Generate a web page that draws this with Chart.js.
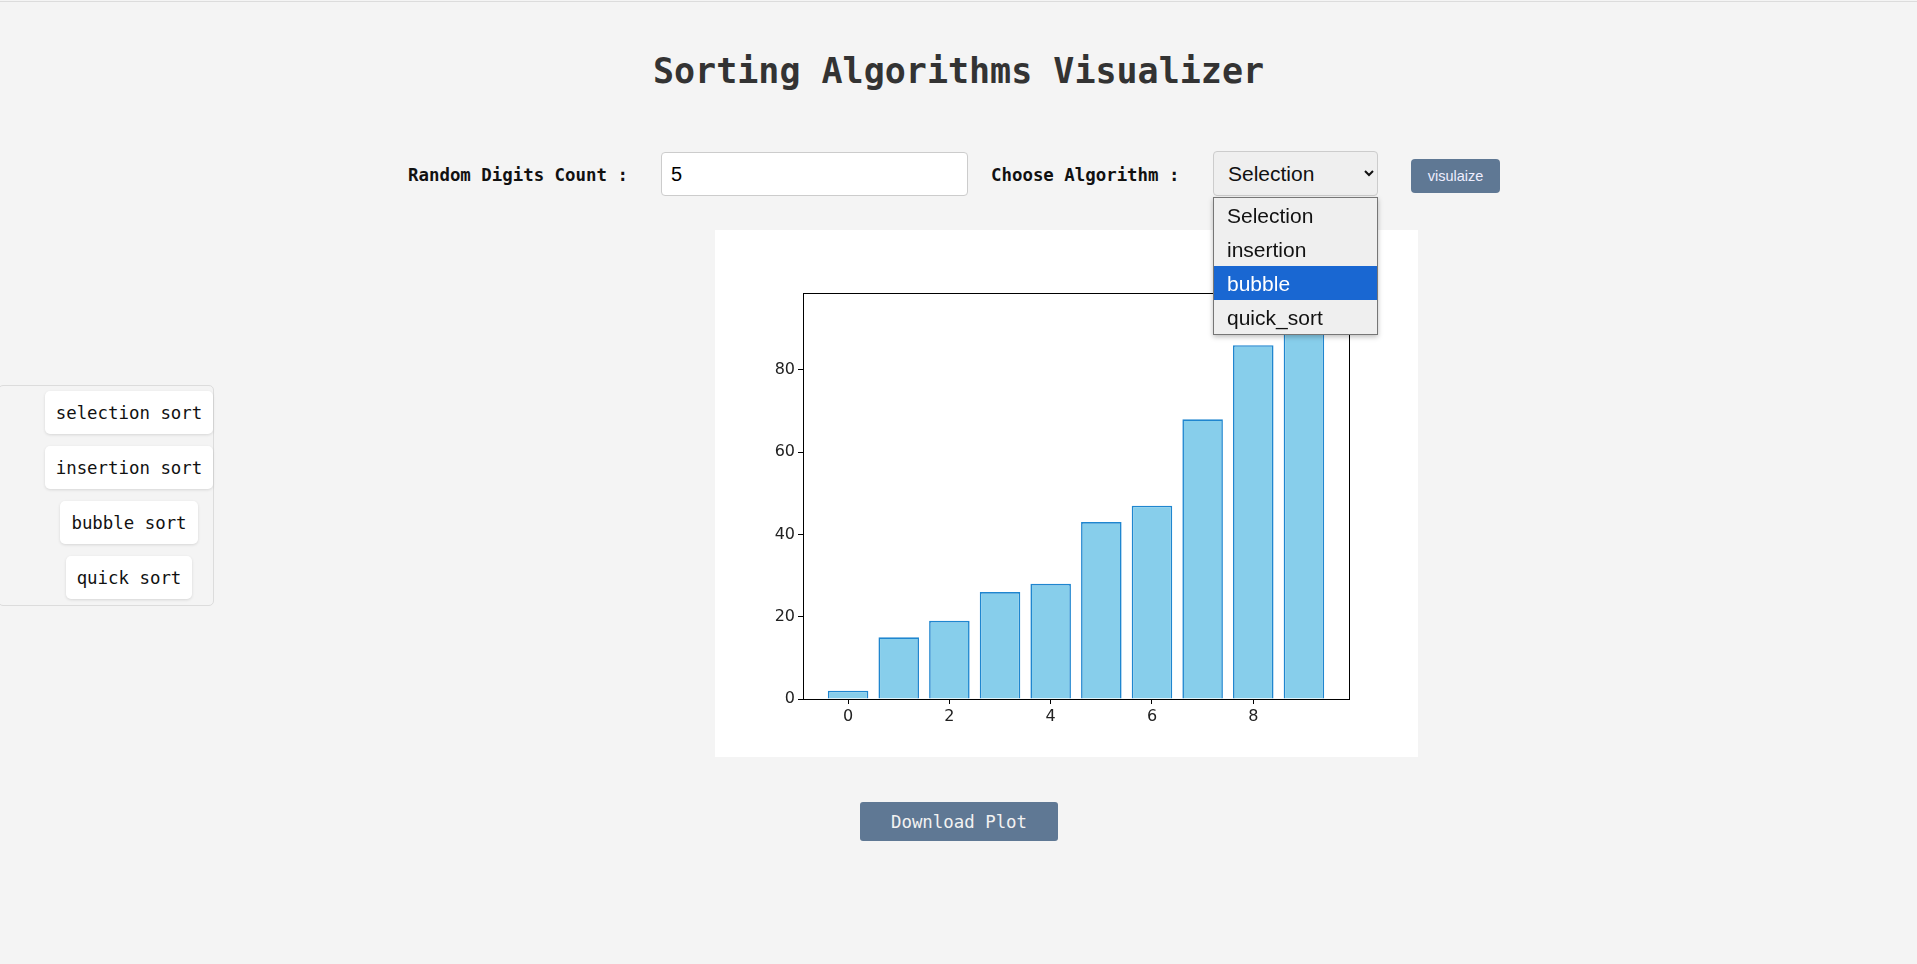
<!DOCTYPE html>
<html>
<head>
<meta charset="utf-8">
<script src="https://cdn.jsdelivr.net/npm/chart.js@4"></script>
<style>
  html, body { margin: 0; padding: 0; }
  body { width: 1917px; height: 964px; overflow: hidden; background: #f4f4f4; position: relative;
         font-family: "DejaVu Sans Mono", monospace; }
  .topline { position: absolute; left: 0; top: 1px; width: 100%; height: 1px; background: #dcdcdc; }
  h1 { position: absolute; left: 0; top: 48px; width: 1917px; margin: 0; text-align: center;
       font-size: 35px; line-height: 46px; color: #333; font-weight: bold; }
  .lbl { position: absolute; top: 163px; font-size: 17.4px; line-height: 24px; font-weight: bold; color: #111; }
  #count { position: absolute; left: 661px; top: 152px; width: 307px; height: 44px; box-sizing: border-box;
           border: 1px solid #ccc; border-radius: 4px; background: #fff; font: 20px "Liberation Sans", Arial;
           padding: 0 9px; outline: none; }
  #algo { position: absolute; left: 1213px; top: 151px; width: 165px; height: 45px; box-sizing: border-box;
          border: 1px solid #ccc; border-radius: 4px; background: #efefef; font: 21px "Liberation Sans", Arial;
          padding: 0 0 0 10px; color: #111; }
  .menu { position: absolute; left: 1213px; top: 197px; width: 165px; box-sizing: border-box;
          border: 1px solid #767676; background: #efefef; box-shadow: 0 2px 5px rgba(0,0,0,0.25); z-index: 5; }
  .menu div { height: 34px; font: 21px "Liberation Sans", Arial; line-height: 36px; padding-left: 13px; color: #111; }
  .menu div.sel { background: #1967d2; color: #fff; }
  #go { position: absolute; left: 1411px; top: 159px; width: 89px; height: 34px; border: none; border-radius: 4px;
        background: #5f7894; color: #eef; font: 14.5px "Liberation Sans", Arial; }
  .plot { position: absolute; left: 715px; top: 230px; width: 703px; height: 527px; background: #fff; }
  .side { position: absolute; left: -2px; top: 385px; width: 216px; height: 221px; box-sizing: border-box;
          border: 1px solid #dcdcdc; border-radius: 5px; }
  .side .col { position: absolute; left: 45px; top: 5px; width: 170px; display: flex; flex-direction: column;
               align-items: center; gap: 12px; }
  .side button { height: 43px; padding: 0 11px; border: none; border-radius: 5px; background: #fff;
                 font: 17.4px "DejaVu Sans Mono", monospace; color: #111; box-shadow: 0 1px 3px rgba(0,0,0,0.12); }
  #dl { position: absolute; left: 860px; top: 802px; width: 198px; height: 39px; border: none; border-radius: 3px;
        background: #5f7894; color: #f2f2f2; font: 17.4px "DejaVu Sans Mono", monospace; }
</style>
</head>
<body>
<div class="topline"></div>
<h1>Sorting Algorithms Visualizer</h1>

<span class="lbl" style="left:408px">Random Digits Count :</span>
<input id="count" type="text" value="5">
<span class="lbl" style="left:991px">Choose Algorithm :</span>
<select id="algo"></select>
<div class="menu" id="menu"></div>
<button id="go">visulaize</button>

<div class="side"><div class="col" id="sideCol"></div></div>

<div class="plot"><canvas id="sort-chart"></canvas></div>

<button id="dl">Download Plot</button>

<script>
// values of the sorted array (bar heights), index along x
const indices = [0, 1, 2, 3, 4, 5, 6, 7, 8, 9];
const sortedValues = [2, 15, 19, 26, 28, 43, 47, 68, 86, 94];
const xTicks = [0, 2, 4, 6, 8];
const yTicks = [0, 20, 40, 60, 80];

const algorithms = ['Selection', 'insertion', 'bubble', 'quick_sort'];
const highlighted = 'bubble';
const sideButtons = ['selection sort', 'insertion sort', 'bubble sort', 'quick sort'];

// form bits
const algoSelect = document.getElementById('algo');
const menu = document.getElementById('menu');
algorithms.forEach((a) => {
  const opt = document.createElement('option');
  opt.textContent = a;
  algoSelect.appendChild(opt);
  const item = document.createElement('div');
  item.textContent = a;
  if (a === highlighted) item.className = 'sel';
  menu.appendChild(item);
});
const sideCol = document.getElementById('sideCol');
sideButtons.forEach((b) => {
  const btn = document.createElement('button');
  btn.textContent = b;
  sideCol.appendChild(btn);
});

// matplotlib-like autoscale margins
const xMin = indices[0] - 0.4 - 0.05 * (indices.length - 1 + 0.8);
const xMax = indices[indices.length - 1] + 0.4 + 0.05 * (indices.length - 1 + 0.8);
const yMax = Math.max(...sortedValues) * 1.05;

// black frame around the axes (top and right spines too)
const frame = {
  id: 'frame',
  afterDraw(chart) {
    const { ctx, chartArea: a } = chart;
    ctx.save();
    ctx.strokeStyle = '#000';
    ctx.lineWidth = 1;
    ctx.strokeRect(Math.round(a.left) + 0.5, Math.round(a.top) + 0.5,
      Math.round(a.right - a.left), Math.round(a.bottom - a.top));
    ctx.restore();
  }
};

const tickFont = { family: 'DejaVu Sans', size: 16 };
const ctx = document.getElementById('sort-chart').getContext('2d');
const sortChart = new Chart(ctx, {
  type: 'bar',
  data: {
    datasets: [
      {
        data: indices.map((i) => ({ x: i, y: sortedValues[i] })),
        backgroundColor: '#87ceeb',
        borderColor: '#1f86cf',
        borderWidth: 1.6,
        barPercentage: 0.8,
        categoryPercentage: 1,
      },
    ],
  },
  options: {
    responsive: true,
    maintainAspectRatio: false,
    animation: false,
    devicePixelRatio: 1,
    layout: { padding: { top: 63, right: 69, left: 0, bottom: 0 } },
    plugins: { legend: { display: false }, tooltip: { enabled: false } },
    scales: {
      x: {
        type: 'linear',
        offset: false,
        min: xMin,
        max: xMax,
        afterBuildTicks: (axis) => { axis.ticks = xTicks.map((v) => ({ value: v })); },
        afterFit: (axis) => { axis.height = 58; },
        grid: { display: true, drawOnChartArea: false, offset: false, tickLength: 5, tickColor: '#000' },
        border: { display: false },
        ticks: { color: '#222', font: tickFont, padding: 3, maxRotation: 0 },
      },
      y: {
        min: 0,
        max: yMax,
        afterBuildTicks: (axis) => { axis.ticks = yTicks.map((v) => ({ value: v })); },
        afterFit: (axis) => { axis.width = 88; },
        grid: { display: true, drawOnChartArea: false, tickLength: 5, tickColor: '#000' },
        border: { display: false },
        ticks: { color: '#222', font: tickFont, padding: 3 },
      },
    },
  },
  plugins: [frame],
});
</script>
</body>
</html>
